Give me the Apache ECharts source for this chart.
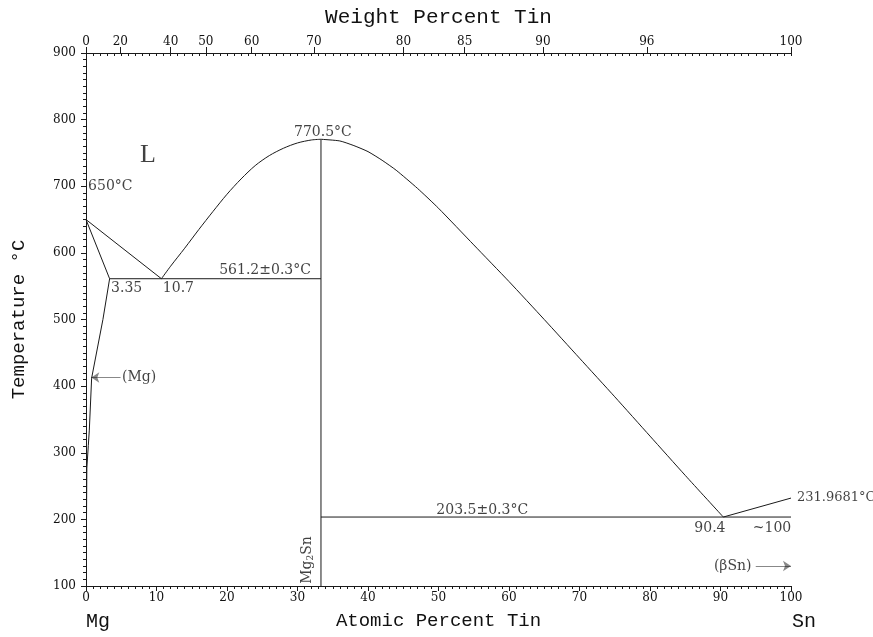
<!DOCTYPE html>
<html>
<head>
<meta charset="utf-8">
<script src="https://cdn.jsdelivr.net/npm/echarts@6/dist/echarts.min.js"></script>
<style>html,body{margin:0;padding:0;background:#fff}#c{width:873px;height:637px}</style>
</head>
<body>
<div id="c"></div>
<script>
// ---- data (atomic percent Sn, temperature °C) ----
const solidusMg = [[0, 650], [3.35, 561.2]];
const liquidusMg = [[0, 650], [10.7, 561.2]];
const solvusMg = [[3.35, 561.2], [2.4, 500], [0.8, 412], [0.47, 334], [0.33, 311], [0.12, 277], [0.07, 200]];
const eutecticMg = [[3.35, 561.2], [33.33, 561.2]];
const liquidusLeft = [[10.7, 561.2], [12, 580], [14, 607], [16, 635], [18, 662], [20, 688], [22, 711], [24, 731], [26, 746], [28, 757], [30, 765], [32, 769.5], [33.33, 770.5]];
const compoundLine = [[33.33, 100], [33.33, 770.5]];
const liquidusRight = [[33.33, 770.5], [36, 768], [38, 761], [40, 752], [42, 739], [44, 724], [47, 697], [50, 667], [55, 612], [60, 557], [65, 500], [70, 442], [75, 384], [80, 325], [85, 266], [90.4, 203.5]];
const eutecticSn = [[33.33, 203.5], [100, 203.5]];
const liquidusSn = [[90.4, 203.5], [100, 231.9681]];

// top axis: weight-percent tick labels and their atomic-percent positions
const weightLabels = ['0', '20', '40', '50', '60', '70', '80', '85', '90', '96', '100'];
const weightAtAtomic = [0, 4.87, 12.01, 16.99, 23.50, 32.33, 45.02, 53.71, 64.82, 79.55, 100];

// annotations [x, y, text, kind]
const notes = [
  [8.8, 747, 'L', 'big'],
  [0.3, 700, '650°C', 'left'],
  [3.55, 546, '3.35', 'left'],
  [10.9, 546, '10.7', 'left'],
  [25.4, 574, '561.2±0.3°C', 'center'],
  [33.6, 781, '770.5°C', 'center'],
  [56.2, 214, '203.5±0.3°C', 'center'],
  [88.5, 187, '90.4', 'center'],
  [97.3, 187, '~100', 'center'],
  [100, 231.9681, '231.9681°C', 'right'],
  [5.1, 413, '(Mg)', 'left'],
  [94.4, 130, '(βSn)', 'rightEnd']
];
const compoundLabel = [31.4, 139, 'Mg{s|2}Sn'];
const arrows = [
  [[4.9, 413], [0.75, 413]],
  [[95.0, 130], [100, 130]]
];

const FONT = 'DejaVu Serif';
const lineStyle = { color: '#1a1a1a', width: 1 };
function lineSeries(data) {
  return { type: 'line', data: data, showSymbol: false, symbol: 'none', lineStyle: lineStyle, animation: false, silent: true, z: 3 };
}

const chart = echarts.init(document.getElementById('c'));
const axisLine = { show: true, lineStyle: { color: '#1a1a1a', width: 1 } };
const tickLabel = { color: '#111', fontFamily: FONT, fontSize: 12 };
const nameStyle = { color: '#111', fontFamily: 'Liberation Mono', fontSize: 19 };

const series = [
  lineSeries(solidusMg), lineSeries(liquidusMg), lineSeries(solvusMg), lineSeries(eutecticMg),
  Object.assign(lineSeries(liquidusLeft), { smooth: 0.3 }),
  lineSeries(compoundLine),
  Object.assign(lineSeries(liquidusRight), { smooth: 0.2 }),
  lineSeries(eutecticSn), lineSeries(liquidusSn),
  {
    type: 'scatter', symbolSize: 0, animation: false, silent: true, clip: false, z: 5,
    data: notes.map(n => ({
      value: [n[0], n[1]],
      label: {
        show: true,
        formatter: n[2],
        position: n[3] === 'right' || n[3] === 'left' ? 'right' : (n[3] === 'rightEnd' ? 'left' : 'inside'),
        distance: n[3] === 'right' ? 6 : 0,
        align: n[3] === 'left' || n[3] === 'right' ? 'left' : (n[3] === 'rightEnd' ? 'right' : 'center'),
        verticalAlign: 'middle',
        color: '#111',
        fontFamily: n[3] === 'big' ? 'Liberation Serif' : FONT,
        fontSize: n[3] === 'big' ? 26 : (n[3] === 'right' ? 13 : 14)
      }
    }))
  },
  {
    type: 'scatter', symbolSize: 0, animation: false, silent: true, clip: false, z: 5,
    data: [{
      value: [compoundLabel[0], compoundLabel[1]],
      label: {
        show: true, position: 'inside', rotate: 90, formatter: compoundLabel[2],
        color: '#111', fontFamily: FONT, fontSize: 14,
        rich: { s: { fontFamily: FONT, fontSize: 9, verticalAlign: 'bottom', padding: [7, 0, 0, 0], color: '#111' } }
      }
    }]
  },
  {
    type: 'lines', coordinateSystem: 'cartesian2d', animation: false, silent: true, z: 4,
    symbol: ['none', 'arrow'], symbolSize: 8,
    lineStyle: { color: '#111', width: 1 },
    data: arrows.map(a => ({ coords: a }))
  }
];

chart.setOption({
  animation: false,
  backgroundColor: '#fff',
  grid: { left: 86, right: 82, top: 53, bottom: 51, containLabel: false, outerBoundsMode: 'none' },
  xAxis: [
    {
      type: 'value', position: 'bottom', min: 0, max: 100, interval: 10,
      axisLine: axisLine, splitLine: { show: false },
      axisTick: { show: true, length: 5, lineStyle: { color: '#1a1a1a' } },
      minorTick: { show: true, splitNumber: 10, length: 3, lineStyle: { color: '#1a1a1a' } },
      axisLabel: Object.assign({ margin: 6 }, tickLabel),
      name: 'Atomic Percent Tin', nameLocation: 'middle', nameGap: 25, nameTextStyle: nameStyle
    },
    {
      type: 'value', position: 'top', min: 0, max: 100,
      axisLine: axisLine, splitLine: { show: false },
      axisTick: { show: true, length: 6, customValues: weightAtAtomic, lineStyle: { color: '#1a1a1a' } },
      axisLabel: Object.assign({
        margin: 5, customValues: weightAtAtomic,
        formatter: function (v) { const i = weightAtAtomic.findIndex(a => Math.abs(a - v) < 1e-6); return i >= 0 ? weightLabels[i] : ''; }
      }, tickLabel),
      name: 'Weight Percent Tin', nameLocation: 'middle', nameGap: 25,
      nameTextStyle: Object.assign({}, nameStyle, { fontSize: 21 })
    },
    {
      type: 'value', position: 'top', min: 0, max: 100, interval: 1,
      axisLine: { show: false }, splitLine: { show: false },
      axisTick: { show: true, inside: true, length: 3, lineStyle: { color: '#1a1a1a' } },
      axisLabel: { show: false }
    }
  ],
  yAxis: [
    {
      type: 'value', position: 'left', min: 100, max: 900, interval: 100,
      axisLine: axisLine, splitLine: { show: false },
      axisTick: { show: true, length: 5, lineStyle: { color: '#1a1a1a' } },
      minorTick: { show: true, splitNumber: 10, length: 3, lineStyle: { color: '#1a1a1a' } },
      axisLabel: Object.assign({ margin: 10 }, tickLabel),
      name: 'Temperature °C', nameLocation: 'middle', nameGap: 58, nameRotate: 90, nameTextStyle: nameStyle
    },
    {
      type: 'value', position: 'right', min: 100, max: 900, interval: 100,
      axisLine: axisLine, splitLine: { show: false },
      axisTick: { show: true, inside: true, length: 5, lineStyle: { color: '#1a1a1a' } },
      minorTick: { show: true, splitNumber: 10, length: 3, lineStyle: { color: '#1a1a1a' } },
      axisLabel: { show: false }
    }
  ],
  graphic: [
    { type: 'text', left: 86, top: 612, style: { text: 'Mg', font: '20px "Liberation Mono"', fill: '#111' } },
    { type: 'text', left: 792, top: 612, style: { text: 'Sn', font: '20px "Liberation Mono"', fill: '#111' } }
  ],
  series: series
});
</script>
</body>
</html>
